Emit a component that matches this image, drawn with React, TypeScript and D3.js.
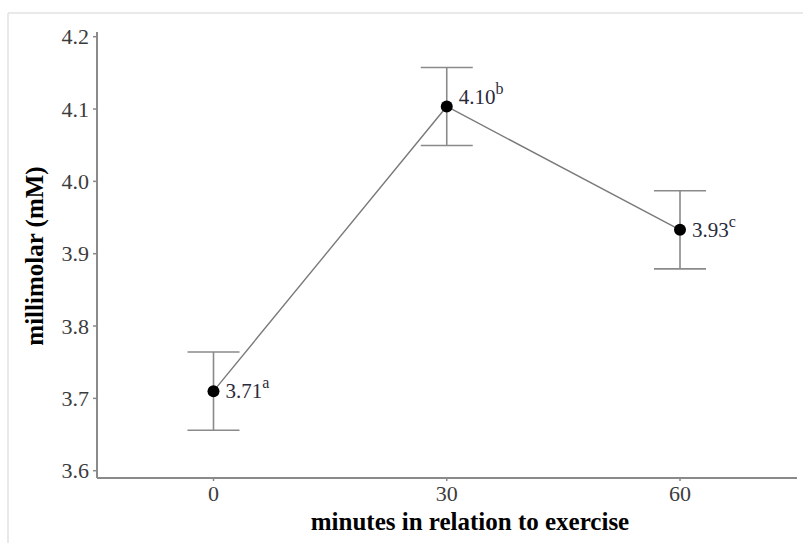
import React from "react";
import { scaleLinear, line } from "d3";

const minutes = [0, 30, 60];
const means = [3.71, 4.1035, 3.933];
const errors = [0.054, 0.054, 0.054];
const labels = ["3.71", "4.10", "3.93"];
const letters = ["a", "b", "c"];
const yTicks = [3.6, 3.7, 3.8, 3.9, 4.0, 4.1, 4.2];

const W = 803;
const H = 543;

export default function App() {
  const x = scaleLinear().domain([0, 60]).range([213.5, 680]);
  const y = scaleLinear().domain([3.6, 4.2]).range([470.7, 36.7]);

  const axisLeft = 97;
  const axisBottom = 478;
  const axisRight = 797;
  const axisTop = 32;

  const data = minutes.map((m, i) => ({
    m,
    v: means[i],
    e: errors[i],
    label: labels[i],
    letter: letters[i],
  }));
  const maxV = Math.max(...means);

  const path = line<{ m: number; v: number }>()
    .x((d) => x(d.m))
    .y((d) => y(d.v))(data);

  const font = "'Liberation Serif', 'Times New Roman', serif";
  const gray = "#8a8a8a";

  return (
    <svg
      width={W}
      height={H}
      style={{ position: "absolute", left: 0, top: 0, background: "#fff" }}
      fontFamily={font}
    >
      {/* faint frame of the original image */}
      <line x1={8} y1={13} x2={W} y2={13} stroke="#e2e2e2" strokeWidth={1.5} />
      <line x1={8} y1={13} x2={8} y2={H} stroke="#e2e2e2" strokeWidth={1.5} />

      {/* axes */}
      <line x1={axisLeft} y1={axisTop} x2={axisLeft} y2={axisBottom} stroke={gray} strokeWidth={2} />
      <line x1={axisLeft} y1={axisBottom} x2={axisRight} y2={axisBottom} stroke={gray} strokeWidth={2} />

      {yTicks.map((t) => (
        <g key={t}>
          <line x1={axisLeft - 4} x2={axisLeft} y1={y(t)} y2={y(t)} stroke={gray} strokeWidth={1.5} />
          <text
            x={axisLeft - 8}
            y={y(t)}
            dy="0.35em"
            textAnchor="end"
            fontSize={22}
            fill="#3c3c3c"
          >
            {t.toFixed(1)}
          </text>
        </g>
      ))}

      {minutes.map((t) => (
        <g key={t}>
          <line x1={x(t)} x2={x(t)} y1={axisBottom} y2={axisBottom + 3} stroke={gray} strokeWidth={1.5} />
          <text x={x(t)} y={501} textAnchor="middle" fontSize={22} fill="#3c3c3c">
            {t}
          </text>
        </g>
      ))}

      {/* axis titles */}
      <text
        x={470}
        y={530}
        textAnchor="middle"
        fontSize={25}
        fontWeight="bold"
        fill="#000"
      >
        minutes in relation to exercise
      </text>
      <text
        transform={`translate(43, 256) rotate(-90)`}
        textAnchor="middle"
        fontSize={25}
        fontWeight="bold"
        fill="#000"
      >
        millimolar (mM)
      </text>

      {/* error bars */}
      {data.map((d) => (
        <g key={`e${d.m}`} stroke={gray} strokeWidth={1.6}>
          <line x1={x(d.m)} x2={x(d.m)} y1={y(d.v + d.e)} y2={y(d.v - d.e)} />
          <line x1={x(d.m) - 26} x2={x(d.m) + 26} y1={y(d.v + d.e)} y2={y(d.v + d.e)} />
          <line x1={x(d.m) - 26} x2={x(d.m) + 26} y1={y(d.v - d.e)} y2={y(d.v - d.e)} />
        </g>
      ))}

      {/* mean line */}
      <path d={path ?? ""} fill="none" stroke="#7a7a7a" strokeWidth={1.4} />

      {data.map((d) => (
        <circle key={`c${d.m}`} cx={x(d.m)} cy={y(d.v)} r={6} fill="#000" />
      ))}

      {data.map((d) => (
        <text
          key={`l${d.m}`}
          x={x(d.m) + 12}
          y={y(d.v) + (d.v === maxV ? -3 : 7)}
          fontSize={21}
          fill="#2a2a3a"
        >
          {d.label}
          <tspan fontSize={16} dy={-10}>
            {d.letter}
          </tspan>
        </text>
      ))}
    </svg>
  );
}
